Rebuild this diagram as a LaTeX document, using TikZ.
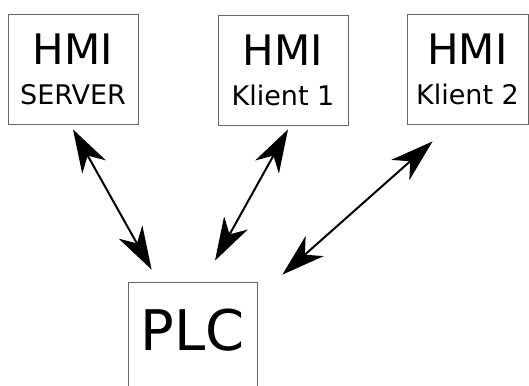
\documentclass[tikz,border=0pt]{standalone}
\usepackage{fontspec}
\setmainfont{DejaVu Sans}
\usetikzlibrary{arrows.meta,calc}
\tikzset{
  unit/.style={draw=gray!80!black,line width=0.8pt,align=center,inner sep=0pt,
    minimum width=130pt,minimum height=110pt,font=\bigname},
  link/.style={line width=2pt,{Stealth[length=43pt,width=27pt,inset=13pt]}-{Stealth[length=43pt,width=27pt,inset=13pt]}}
}
\newcommand{\bigname}{\fontsize{42}{40}\selectfont}
\newcommand{\smallname}{\fontsize{27}{40}\selectfont}
\begin{document}
\begin{tikzpicture}[x=1pt,y=-1pt]
\useasboundingbox (0,0) rectangle (529,385);
% HMI stations
\node[unit] (server) at (73,69) {HMI\\{\smallname SERVER}};
\node[unit,minimum width=130pt] (klient1) at (283,70) {HMI\\{\smallname Klient 1}};
\node[unit,minimum width=121pt] (klient2) at (467.5,69) {HMI\\{\smallname Klient 2}};

% controller
\node[unit,minimum width=129pt,minimum height=113pt,text height=41pt,text depth=18pt,
  font=\fontsize{56}{56}\selectfont] (plc) at (192.5,338.5) {PLC};

% links
\draw[link] ([yshift=-5pt]server.south) -- ([xshift=24pt,yshift=12pt]plc.north west);
\draw[link] ([xshift=5pt,yshift=-4pt]klient1.south) -- ([xshift=22.5pt,yshift=21pt]plc.north);
\draw[link] ([xshift=26pt,yshift=-17pt]klient2.south west) -- ([xshift=25pt,yshift=7pt]plc.north east);
\end{tikzpicture}
\end{document}
